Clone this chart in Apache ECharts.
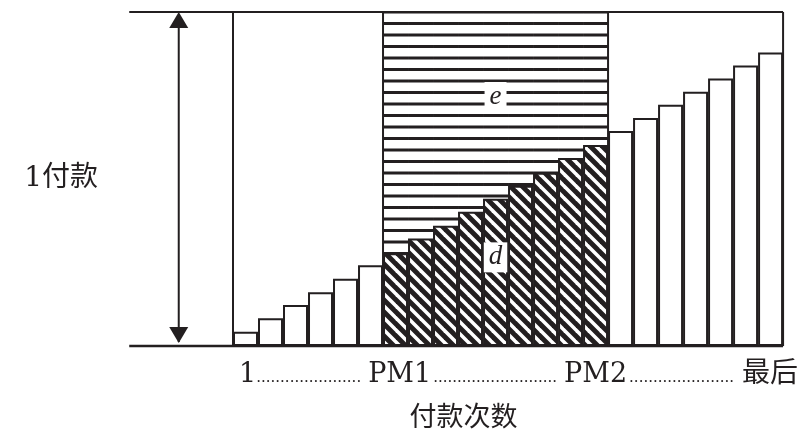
<!DOCTYPE html>
<html>
<head>
<meta charset="utf-8">
<script src="https://cdn.jsdelivr.net/npm/echarts@6.0.0/dist/echarts.min.js"></script>
<style>
html, body { margin: 0; padding: 0; background: #fff; }
#main { width: 803px; height: 437px; }
</style>
</head>
<body>
<div id="main"></div>
<script>
// 付款序号 1 ... 最后
const paymentNo = ['1', '2', '3', '4', '5', '6', '7', '8', '9', '10', '11',
  '12', '13', '14', '15', '16', '17', '18', '19', '20', '21', '22'];
// 每笔付款（以 1 付款为满高）
const beforePM1 = [0.043, 0.083, 0.123, 0.161, 0.201, 0.242];
const betweenPM = [0.278, 0.322, 0.360, 0.402, 0.441, 0.480, 0.519, 0.563, 0.602]; // d
const afterPM2 = [0.644, 0.683, 0.722, 0.761, 0.801, 0.840, 0.879];
const onePayment = 1;
const tickLabels = ['1', 'PM1', 'PM2', '最后'];
const areaLabels = ['e', 'd'];

const INK = '#231f20';
const SERIF = '"DejaVu Serif", "Noto Sans CJK SC", serif';

// 斜线填充
function hatchPattern() {
  const p = 12, w = 7;
  const c = document.createElement('canvas');
  c.width = p; c.height = p;
  const g = c.getContext('2d');
  g.fillStyle = '#fff';
  g.fillRect(0, 0, p, p);
  g.fillStyle = INK;
  for (let k = -1; k <= 1; k++) {
    g.beginPath();
    g.moveTo(k * p - w / 2, 0);
    g.lineTo(k * p + w / 2, 0);
    g.lineTo(k * p + w / 2 + p, p);
    g.lineTo(k * p - w / 2 + p, p);
    g.closePath();
    g.fill();
  }
  return c;
}
// 横线填充
function linePattern() {
  const c = document.createElement('canvas');
  c.width = 4; c.height = 23;
  const g = c.getContext('2d');
  g.fillStyle = '#fff';
  g.fillRect(0, 0, 4, 23);
  g.fillStyle = INK;
  g.fillRect(0, -1, 4, 3);
  g.fillRect(0, 22, 4, 3);
  g.fillRect(0, 10.5, 4, 3);
  return c;
}

const nBefore = beforePM1.length, nBetween = betweenPM.length, nAfter = afterPM2.length;
const blank = n => Array(n).fill('-');
const mid = Math.floor(nBetween / 2);

const areaLabel = (text, dy) => ({
  show: true, formatter: text, position: 'inside', offset: [0, dy],
  fontFamily: '"Liberation Serif", serif', fontStyle: 'italic', fontSize: 27,
  color: INK, backgroundColor: '#fff', padding: [2, 5], lineHeight: 26
});

const whiteData = beforePM1.concat(blank(nBetween), afterPM2);
const dData = blank(nBefore).concat(
  betweenPM.map((v, i) => i === mid ? { value: v, label: areaLabel(areaLabels[1], -15) } : v),
  blank(nAfter));
const eData = blank(nBefore).concat(
  betweenPM.map((v, i) => i === mid ? { value: onePayment, label: areaLabel(areaLabels[0], -82) } : onePayment),
  blank(nAfter));

// 框线（以柱宽为单位）：x1, y1, x2, y2, 线宽
const xFrom = -4.15, xArrow = -2.17, xEnd = paymentNo.length;
const pm1Edge = nBefore, pm2Edge = nBefore + nBetween;
const frameSegs = [
  [xFrom, onePayment, xEnd, onePayment, 2],
  [xFrom, 0, xEnd, 0, 2.5],
  [0, 0, 0, onePayment, 2],
  [xEnd, 0, xEnd, onePayment, 2],
  [pm1Edge, 0, pm1Edge, onePayment, 2],
  [pm2Edge, 0, pm2Edge, onePayment, 2]
];

const dots = n => '.'.repeat(n);
const tickName =
  '{first|' + tickLabels[0] + '}{dot|' + dots(22) + '}{pm|' + tickLabels[1] + '}{dot|' + dots(26) +
  '}{pm|' + tickLabels[2] + '}{dot|' + dots(22) + '}{last|' + tickLabels[3] + '}';

const chart = echarts.init(document.getElementById('main'));
chart.setOption({
  animation: false,
  backgroundColor: '#fff',
  grid: { left: 233, right: 19, top: 12, bottom: 91 },
  xAxis: [{
    type: 'category', data: paymentNo, position: 'bottom',
    axisLine: { show: false }, axisTick: { show: false }, axisLabel: { show: false },
    name: tickName, nameLocation: 'middle', nameGap: 14,
    nameTextStyle: {
      rich: {
        first: { fontFamily: SERIF, fontSize: 27, color: INK, lineHeight: 30, padding: [0, 0, 0, 23] },
        pm: { fontFamily: SERIF, fontSize: 27, color: INK, lineHeight: 30, padding: [0, 2, 0, 7] },
        last: { fontFamily: SERIF, fontSize: 28, color: INK, lineHeight: 30, padding: [0, 2, 0, 8] },
        dot: { fontFamily: SERIF, fontSize: 15, color: INK, lineHeight: 20, padding: [6, 0, 0, 0] }
      }
    }
  }, {
    type: 'value', min: 0, max: xEnd, position: 'bottom',
    axisLine: { show: false }, axisTick: { show: false }, axisLabel: { show: false }, splitLine: { show: false },
    name: '付款次数', nameLocation: 'middle', nameGap: 59,
    nameTextStyle: { fontFamily: SERIF, fontSize: 27, color: INK, padding: [0, 89, 0, 0] }
  }],
  yAxis: {
    type: 'value', min: 0, max: onePayment,
    axisLine: { show: false }, axisTick: { show: false }, axisLabel: { show: false }, splitLine: { show: false },
    name: '1付款', nameLocation: 'middle', nameRotate: 0, nameGap: 135,
    nameTextStyle: { fontFamily: SERIF, fontSize: 28, color: INK, padding: [4, 0, 0, 0] }
  },
  series: [
    {
      type: 'bar', name: 'e', data: eData, barGap: '-100%', barCategoryGap: 0,
      itemStyle: { color: { image: linePattern(), repeat: 'repeat' }, borderWidth: 0 }
    },
    {
      type: 'bar', name: 'd', data: dData, barGap: '-100%', barCategoryGap: 0,
      itemStyle: { color: { image: hatchPattern(), repeat: 'repeat' }, borderColor: INK, borderWidth: 2 }
    },
    {
      type: 'bar', name: 'pay', data: whiteData, barGap: '-100%', barCategoryGap: 0,
      itemStyle: { color: '#fff', borderColor: INK, borderWidth: 2 }
    },
    {
      type: 'custom', name: 'frame', xAxisIndex: 1, yAxisIndex: 0, silent: true, z: 5,
      data: frameSegs,
      renderItem: function (params, api) {
        const a = api.coord([api.value(0), api.value(1)]);
        const b = api.coord([api.value(2), api.value(3)]);
        return {
          type: 'line',
          shape: { x1: a[0], y1: a[1], x2: b[0], y2: b[1] },
          style: { stroke: INK, lineWidth: api.value(4) }
        };
      }
    },
    {
      type: 'custom', name: 'arrow', xAxisIndex: 1, yAxisIndex: 0, silent: true, z: 5,
      data: [[xArrow, 0, onePayment]],
      renderItem: function (params, api) {
        const top = api.coord([api.value(0), api.value(2)]);
        const bot = api.coord([api.value(0), api.value(1)]);
        const x = top[0], hw = 9.5, hh = 16;
        return {
          type: 'group',
          children: [
            { type: 'line', shape: { x1: x, y1: top[1] + 4, x2: x, y2: bot[1] - 4 },
              style: { stroke: INK, lineWidth: 2 } },
            { type: 'polygon', shape: { points: [[x, top[1]], [x - hw, top[1] + hh], [x + hw, top[1] + hh]] },
              style: { fill: INK } },
            { type: 'polygon', shape: { points: [[x, bot[1] - 3], [x - hw, bot[1] - 3 - hh], [x + hw, bot[1] - 3 - hh]] },
              style: { fill: INK } }
          ]
        };
      }
    }
  ]
});
</script>
</body>
</html>
